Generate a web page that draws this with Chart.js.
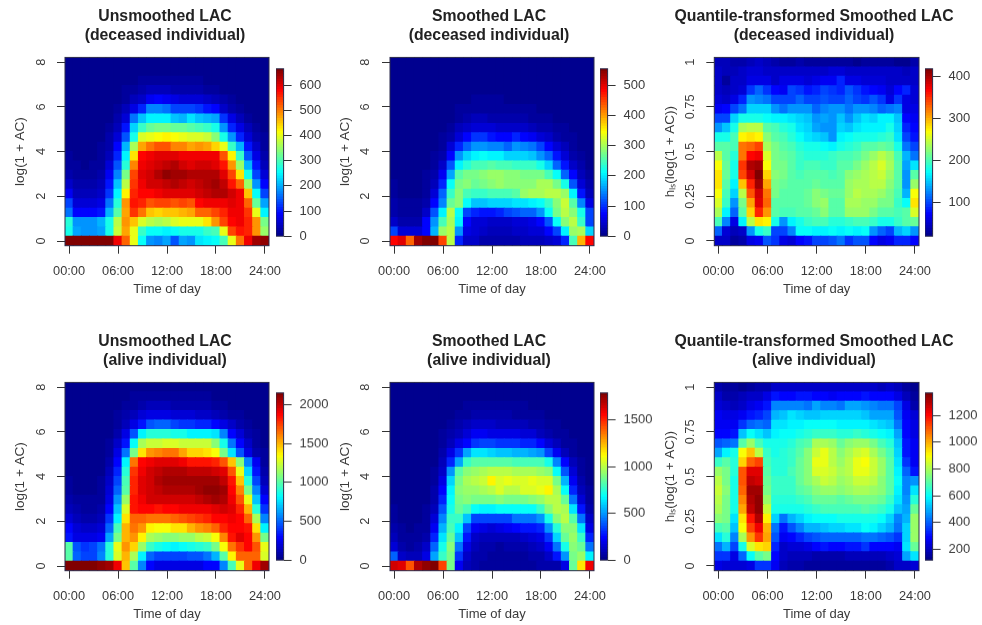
<!DOCTYPE html>
<html>
<head>
<meta charset="utf-8">
<script src="https://cdn.jsdelivr.net/npm/chart.js@4/dist/chart.umd.min.js"></script>
<style>
  html, body { margin: 0; padding: 0; background: #fff; }
  #page { position: relative; width: 982px; height: 625px; overflow: hidden; filter: blur(0.7px); }
  canvas { position: absolute; }
</style>
</head>
<body>
<div id="page"></div>
<script>
const timeLabels = ['00:00','01:00','02:00','03:00','04:00','05:00','06:00','07:00','08:00','09:00','10:00','11:00','12:00','13:00','14:00','15:00','16:00','17:00','18:00','19:00','20:00','21:00','22:00','23:00','24:00'];
const logBins = [0,0.42,0.84,1.26,1.68,2.11,2.53,2.95,3.37,3.79,4.21,4.63,5.05,5.47,5.89,6.32,6.74,7.16,7.58,8];
const quantBins = [0,0.053,0.105,0.158,0.211,0.263,0.316,0.368,0.421,0.474,0.526,0.579,0.632,0.684,0.737,0.789,0.842,0.895,0.947,1];
const logTicks = [0,2,4,6,8];
const quantTicks = [0,0.25,0.5,0.75,1];

// every grid is bottom row first, one row = 25 hours
const unsmoothedDeceased = [
  [662,662,662,662,660,655,590,510,400,250,180,175,190,145,190,180,235,240,255,300,400,500,590,640,650],
  [270,190,180,180,190,260,380,470,400,290,250,250,245,250,260,270,270,290,300,400,530,570,560,480,350],
  [280,180,180,180,200,270,370,480,450,390,370,360,370,390,395,405,400,430,480,530,580,585,560,480,330],
  [160,90,85,85,100,200,310,470,545,500,450,445,450,450,460,470,510,510,530,560,585,590,545,400,240],
  [130,60,60,60,70,160,280,480,570,560,520,530,530,520,530,520,580,585,585,590,595,590,510,320,190],
  [80,40,35,40,50,120,240,420,560,580,575,590,595,595,595,600,605,615,630,625,605,590,450,250,130],
  [50,25,22,25,35,95,210,370,545,590,605,610,620,625,620,610,615,625,640,620,570,510,350,180,85],
  [30,18,16,18,28,75,175,330,530,600,610,625,645,640,640,630,630,630,630,600,530,430,270,125,55],
  [18,11,10,12,20,55,140,280,490,590,600,610,620,630,610,600,610,610,600,565,480,350,200,95,40],
  [12,7,7,9,15,40,110,240,430,575,590,600,600,600,590,585,590,590,585,525,420,290,145,65,28],
  [8,5,5,6,11,30,85,200,360,470,500,520,520,490,490,470,480,470,440,400,290,200,100,45,20],
  [5,3,3,4,8,22,60,140,270,390,400,410,420,410,400,390,390,375,340,270,180,110,60,28,14],
  [4,2,2,3,5,14,40,95,220,290,320,330,330,320,320,310,300,290,260,180,110,65,35,18,10],
  [3,2,2,2,4,9,25,60,160,210,245,240,240,215,205,230,210,200,190,120,65,35,20,10,6],
  [2,1,1,2,3,6,16,38,70,110,170,175,160,130,125,130,120,100,85,50,28,16,10,6,4],
  [1,1,1,1,2,4,9,20,35,50,75,85,80,65,60,60,55,45,35,22,13,8,5,3,2],
  [0,0,0,1,1,2,5,11,18,25,35,38,36,30,28,26,24,20,16,10,7,4,3,2,1],
  [0,0,0,0,1,1,2,5,9,12,16,18,17,14,13,12,11,9,7,5,3,2,1,1,1],
  [0,0,0,0,0,1,1,2,4,6,8,9,8,7,6,6,5,4,3,2,1,1,1,0,0],
  [0,0,0,0,0,0,1,1,2,3,4,4,4,3,3,3,2,2,1,1,1,0,0,0,0]
];
const smoothedDeceased = [
  [480,500,430,530,550,550,450,310,90,40,35,25,20,20,20,25,30,30,30,35,45,95,250,390,480],
  [110,50,50,50,70,170,290,310,150,60,45,35,30,30,30,35,40,45,50,75,110,200,290,300,190],
  [40,25,22,25,70,150,250,300,200,70,50,45,40,40,40,45,50,55,70,120,210,280,310,240,110],
  [25,16,14,16,40,120,200,310,210,110,90,85,85,90,105,115,125,130,150,215,270,310,285,220,110],
  [18,10,9,10,25,75,145,265,280,210,175,180,185,190,185,195,195,200,210,240,285,315,260,140,55],
  [12,8,7,8,17,50,125,240,280,250,235,240,250,250,250,255,290,295,300,310,310,290,200,80,30],
  [9,6,5,6,12,30,95,210,270,280,265,275,285,290,285,280,280,285,295,300,275,220,120,50,18],
  [7,4,4,5,9,22,65,160,255,270,275,280,290,290,285,280,275,270,270,250,210,130,70,30,12],
  [5,3,3,4,7,15,40,120,205,230,245,250,255,250,245,240,240,235,225,190,125,80,40,18,8],
  [4,2,2,3,5,10,25,75,150,190,205,210,205,205,190,185,185,175,155,125,80,45,25,12,6],
  [3,2,2,2,4,7,15,45,90,130,155,150,140,140,130,150,145,135,105,75,45,28,15,8,4],
  [2,1,1,2,3,5,10,25,50,75,100,100,80,75,75,90,75,65,50,35,25,15,9,5,3],
  [2,1,1,1,2,3,6,14,28,40,50,52,45,40,40,42,38,33,26,20,14,9,5,3,2],
  [1,1,1,1,2,2,4,8,15,22,28,28,26,23,22,22,20,17,13,10,7,5,3,2,1],
  [1,0,0,1,1,2,3,5,9,13,16,17,16,14,13,13,11,10,8,6,4,3,2,1,1],
  [0,0,0,0,1,1,2,3,6,8,10,11,10,9,8,8,7,6,5,3,3,2,1,1,0],
  [0,0,0,0,0,1,1,2,3,5,6,7,6,5,5,5,4,3,3,2,1,1,1,0,0],
  [0,0,0,0,0,0,1,1,2,3,4,4,4,3,3,3,2,2,1,1,1,1,0,0,0],
  [0,0,0,0,0,0,0,1,1,2,2,3,2,2,2,2,1,1,1,1,0,0,0,0,0],
  [0,0,0,0,0,0,0,0,1,1,1,1,1,1,1,1,1,0,0,0,0,0,0,0,0]
];
const quantileDeceased = [
  [50,45,30,35,60,65,105,90,60,55,70,80,95,100,105,115,90,105,105,75,60,65,85,85,70],
  [110,55,40,50,125,175,190,100,100,120,170,170,165,165,170,165,170,165,170,125,110,95,140,150,130],
  [195,120,60,165,240,280,270,175,130,165,180,190,195,195,185,185,190,195,195,190,175,175,190,200,210],
  [235,165,110,200,285,350,310,200,195,195,200,205,210,220,205,200,225,225,225,215,205,205,195,200,255],
  [255,190,130,215,305,375,330,205,200,200,205,210,220,225,205,205,235,235,230,225,215,215,190,170,280],
  [265,195,150,240,335,385,320,215,205,200,205,210,220,215,210,210,230,240,235,235,225,215,195,140,265],
  [275,205,165,290,350,400,300,215,210,200,200,205,210,205,205,205,225,235,235,240,240,220,200,130,230],
  [280,210,175,340,385,415,285,220,215,205,195,200,200,200,195,205,220,225,235,240,245,225,200,130,205],
  [265,210,180,345,395,405,265,215,215,205,190,195,195,190,190,200,205,215,230,240,250,235,200,135,160],
  [240,205,185,320,365,370,250,215,210,205,190,185,185,185,190,195,195,205,215,225,240,230,195,140,115],
  [205,200,195,320,330,340,235,215,205,195,185,175,175,170,165,180,185,190,200,205,210,205,180,115,100],
  [180,175,195,270,275,270,220,205,195,185,170,160,150,145,130,165,170,175,180,180,185,190,160,95,80],
  [130,145,175,235,240,240,205,195,185,175,160,150,135,130,125,150,145,160,165,165,165,175,155,85,70],
  [95,100,150,175,180,175,170,165,165,160,155,145,130,135,130,145,130,145,160,150,165,165,145,75,65],
  [65,70,95,115,155,155,150,125,115,125,130,125,110,120,125,125,115,125,130,120,110,115,120,60,60],
  [55,45,60,85,125,120,115,100,95,100,110,100,100,105,100,100,110,95,90,105,90,60,90,60,55],
  [50,40,50,55,90,110,90,70,65,95,90,80,85,95,90,85,105,90,80,70,65,55,75,85,55],
  [45,30,45,50,60,60,60,50,60,60,60,55,60,65,65,85,60,60,55,55,55,50,50,50,50],
  [50,40,40,45,55,55,50,45,50,50,50,45,50,50,55,55,50,50,45,45,45,45,45,40,45],
  [40,40,35,35,40,45,40,35,30,30,35,30,30,30,30,30,30,25,30,30,30,30,25,25,35]
];
const unsmoothedAlive = [
  [2140,2140,2140,2130,2110,2050,1900,1450,1000,560,300,220,220,220,220,220,220,270,300,560,950,1300,1650,1900,2080],
  [1000,500,420,430,550,900,1250,1500,1150,800,500,430,420,420,430,440,470,520,640,1000,1350,1650,1650,1650,1250],
  [1000,460,400,420,520,880,1280,1560,1420,1130,920,850,810,800,820,860,890,940,1060,1340,1620,1780,1880,1700,1300],
  [320,230,210,210,250,620,1060,1500,1560,1350,1160,1110,1090,1100,1110,1130,1180,1240,1320,1580,1820,1920,1880,1550,1050],
  [290,170,150,150,190,490,950,1480,1620,1560,1350,1340,1320,1390,1400,1500,1570,1590,1650,1800,1880,1880,1820,1400,800],
  [200,110,90,95,130,380,800,1400,1650,1650,1630,1620,1640,1670,1700,1720,1780,1800,1850,1880,1900,1870,1660,1150,560],
  [130,70,60,65,90,300,680,1250,1830,1870,1860,1830,1880,1880,1890,1890,1900,1910,1920,1950,1920,1800,1480,880,380],
  [90,45,40,42,65,230,590,1120,1830,1900,1950,1960,1960,1970,1970,1970,2000,2040,2060,2030,1900,1700,1280,680,270],
  [60,32,28,30,48,180,500,1000,1800,1920,1950,1990,2040,2040,2030,2040,2080,2100,2090,2050,1880,1590,1050,540,180],
  [42,22,20,22,36,140,430,950,1800,1920,1970,2030,2060,2060,2050,2060,2070,2080,2060,2000,1820,1450,880,420,130],
  [30,16,14,16,26,110,350,880,1760,1900,1950,1990,2030,2040,2020,1990,2000,2000,1980,1920,1700,1300,720,320,90],
  [20,11,10,12,19,85,290,800,1620,1880,1900,1930,1920,1920,1890,1830,1840,1830,1800,1700,1470,1100,570,240,65],
  [14,8,7,9,14,62,220,530,1050,1380,1550,1600,1640,1620,1520,1430,1430,1400,1330,1050,750,470,230,100,40],
  [10,6,5,6,10,45,150,330,830,1170,1210,1230,1250,1250,1220,1220,1220,1210,1080,850,530,280,140,60,25],
  [7,4,4,4,7,30,100,210,460,800,880,900,880,850,840,800,780,780,750,560,300,170,85,38,16],
  [5,3,3,3,5,20,60,130,230,330,470,500,480,420,400,400,350,340,300,220,140,85,45,22,10],
  [3,2,2,2,4,12,35,70,120,170,210,230,220,190,190,180,160,150,130,100,65,40,22,11,5],
  [2,1,1,2,3,8,20,40,65,85,105,115,110,100,95,90,80,70,60,45,30,20,11,6,3],
  [1,1,1,1,2,5,11,22,35,45,55,60,58,50,48,45,40,35,30,22,15,10,6,3,2],
  [1,0,0,1,1,3,6,12,18,24,28,30,28,25,24,22,20,18,15,11,8,5,3,2,1]
];
const smoothedAlive = [
  [1650,1600,1400,1700,1760,1770,1450,880,200,110,70,50,40,35,35,40,45,50,60,70,70,190,850,1150,1580],
  [400,130,110,110,170,520,780,890,330,130,80,60,50,45,45,50,55,65,80,130,260,500,870,950,650],
  [140,60,50,60,120,400,700,900,430,190,100,70,60,55,60,65,75,85,120,210,420,700,910,860,420],
  [90,40,32,40,80,280,640,850,560,260,130,100,90,90,95,100,120,140,190,330,590,840,930,780,280],
  [60,28,24,28,55,200,540,800,660,340,200,170,160,170,220,240,260,270,300,500,740,920,900,620,190],
  [40,20,18,22,40,150,450,760,760,560,350,340,340,360,360,420,430,440,480,720,900,980,820,420,120],
  [28,15,13,16,30,110,370,720,860,810,680,660,670,680,680,690,690,680,760,900,1000,960,640,260,80],
  [20,11,10,12,22,80,290,680,880,900,880,880,890,900,890,880,880,900,950,1000,990,840,430,160,50],
  [15,8,8,9,17,60,230,650,900,950,950,960,980,1040,1000,990,1040,1060,1090,1120,960,680,300,100,35],
  [11,6,6,7,13,45,180,600,880,960,990,1030,1120,1060,1070,1040,1050,1070,1060,1040,880,540,210,70,25],
  [8,5,4,5,10,33,130,480,820,900,950,960,1000,980,980,960,970,970,950,900,680,380,140,50,18],
  [6,4,3,4,8,25,95,300,520,780,820,830,830,820,820,810,810,810,800,700,450,240,90,32,12],
  [4,3,3,3,6,18,65,190,310,520,630,640,590,560,560,540,540,520,480,350,210,110,50,20,8],
  [3,2,2,2,4,13,42,110,170,240,320,340,340,320,320,310,300,280,240,160,100,55,28,12,6],
  [2,1,1,2,3,9,28,65,110,150,200,220,190,190,180,170,160,140,110,80,50,30,16,8,4],
  [1,1,1,1,2,6,18,40,70,90,120,130,120,105,100,95,85,75,60,45,30,18,10,5,3],
  [1,1,1,1,1,4,11,24,42,55,70,75,70,62,58,55,50,42,35,25,17,11,6,3,2],
  [1,0,0,1,1,3,7,14,24,32,40,44,42,36,34,32,28,24,20,15,10,6,4,2,1],
  [0,0,0,0,1,2,4,8,14,18,22,24,22,20,19,18,16,14,11,8,6,4,2,1,1],
  [0,0,0,0,0,1,2,4,7,9,11,12,11,10,9,9,8,7,6,4,3,2,1,1,0]
];
const quantileAlive = [
  [240,230,220,220,240,340,350,260,180,160,160,150,150,140,140,145,140,145,145,150,150,160,200,210,230],
  [350,340,240,400,600,700,740,280,200,180,190,180,175,170,170,170,180,180,180,190,190,200,230,480,550],
  [430,500,370,620,850,930,950,330,210,220,220,240,290,300,290,280,300,300,340,280,290,280,260,550,720],
  [560,640,450,800,1020,1150,1000,380,260,290,330,370,390,400,400,400,410,410,430,420,400,390,340,540,780],
  [680,700,520,880,1130,1230,980,430,300,380,450,490,500,520,530,540,550,550,590,570,530,500,420,530,780],
  [760,730,560,920,1190,1290,900,540,420,500,540,570,590,600,600,610,610,610,620,610,590,540,440,500,780],
  [800,730,610,1000,1270,1340,830,620,610,620,620,640,660,670,670,680,680,680,690,680,660,610,520,480,720],
  [820,740,620,1050,1300,1340,780,640,640,640,660,680,710,720,720,700,720,730,730,730,720,660,550,460,640],
  [830,750,620,1080,1320,1310,740,650,650,660,690,720,760,780,770,750,770,790,790,780,750,690,580,440,560],
  [820,740,620,1100,1280,1260,720,650,650,660,710,750,800,830,820,780,800,830,830,810,760,700,590,440,460],
  [780,730,630,1110,1240,1240,690,640,640,670,720,760,850,850,830,790,810,870,860,830,770,700,580,400,300],
  [650,700,640,950,1090,1130,680,630,640,660,710,760,860,870,820,780,820,870,880,830,770,690,560,340,270],
  [480,570,620,880,960,820,650,620,630,650,700,750,840,860,810,760,800,840,850,790,740,670,540,310,270],
  [380,400,420,700,770,680,610,610,620,630,670,700,790,800,780,720,760,780,770,730,680,640,510,300,260],
  [280,290,310,510,590,560,510,580,590,600,610,630,660,660,650,640,640,650,640,620,600,580,470,290,240],
  [270,270,270,350,400,430,400,550,560,570,580,590,590,600,590,580,570,570,570,550,540,520,430,280,240],
  [260,250,250,270,300,320,360,500,520,550,530,520,520,530,530,540,540,530,510,480,470,480,390,270,220],
  [220,200,190,200,250,260,300,440,440,440,440,430,470,450,440,430,470,470,460,440,430,420,360,240,170],
  [200,170,170,180,200,210,240,300,280,290,300,300,290,280,270,280,290,290,300,290,280,280,240,190,150],
  [160,150,140,130,150,170,170,200,210,200,210,210,210,210,200,200,210,210,200,200,190,200,180,140,130]
];

const cbTicksUnsDec = [0,100,200,300,400,500,600];
const cbTicksSmoDec = [0,100,200,300,400,500];
const cbTicksQuaDec = [100,200,300,400];
const cbTicksUnsAli = [0,500,1000,1500,2000];
const cbTicksSmoAli = [0,500,1000,1500];
const cbTicksQuaAli = [200,400,600,800,1000,1200];

// tim.colors style palette, 64 steps
function jet(f) {
  const stops = [[0,0,0,143],[0.125,0,0,255],[0.375,0,255,255],[0.625,255,255,0],[0.875,255,0,0],[1,128,0,0]];
  f = Math.min(1, Math.max(0, Math.floor(f * 64) / 63));
  for (let i = 1; i < stops.length; i++) {
    if (f <= stops[i][0]) {
      const a = stops[i - 1], b = stops[i], t = (f - a[0]) / (b[0] - a[0]);
      return `rgb(${[1, 2, 3].map(k => Math.round(a[k] + (b[k] - a[k]) * t)).join(',')})`;
    }
  }
  return 'rgb(128,0,0)';
}

const boxPlugin = {
  id: 'box',
  afterDraw(chart) {
    const a = chart.chartArea, ctx = chart.ctx;
    ctx.save();
    ctx.strokeStyle = '#2a2a4a';
    ctx.lineWidth = 1;
    ctx.strokeRect(a.left, a.top, a.right - a.left, a.bottom - a.top);
    ctx.restore();
  }
};

const TEXT = '#3a3a3a';
const page = document.getElementById('page');

function addCanvas(left, top, w, h) {
  const c = document.createElement('canvas');
  c.width = w; c.height = h;
  c.style.left = left + 'px'; c.style.top = top + 'px';
  c.style.width = w + 'px'; c.style.height = h + 'px';
  page.appendChild(c);
  return c;
}

function heatPanel(p) {
  const H = 300;
  // cell edges sit halfway between neighbouring bins so rows touch
  const edge = i => i <= 0 ? p.bins[0] - (p.bins[1] - p.bins[0]) / 2
    : i >= p.bins.length ? p.bins[19] + (p.bins[19] - p.bins[18]) / 2
    : (p.bins[i - 1] + p.bins[i]) / 2;
  const datasets = p.grid.map((row, r) => ({
    grouped: false,
    data: row.map(() => [edge(r), edge(r + 1)]),
    backgroundColor: row.map(v => jet((v - p.min) / (p.max - p.min))),
    barPercentage: 1,
    categoryPercentage: 1,
    borderWidth: 0,
    inflateAmount: 0.5
  }));
  new Chart(addCanvas(p.left, p.top, p.width, H), {
    type: 'bar',
    data: { labels: timeLabels, datasets },
    plugins: [boxPlugin],
    options: {
      responsive: false,
      animation: false,
      events: [],
      plugins: {
        legend: { display: false },
        tooltip: { enabled: false },
        title: {
          display: true,
          text: p.title,
          color: '#222',
          font: { family: 'Liberation Sans', size: 15.8, weight: 'bold', lineHeight: 1.2 },
          padding: { top: 7.5, bottom: 12 }
        }
      },
      scales: {
        x: {
          grid: { offset: false, drawOnChartArea: false, tickLength: 8, tickColor: c => c.index % 6 === 0 ? '#333' : 'rgba(0,0,0,0)' },
          border: { display: false },
          ticks: {
            autoSkip: false, maxRotation: 0, padding: 10, color: TEXT,
            font: { family: 'Liberation Sans', size: 12.8 },
            callback(val, i) { return i % 6 === 0 ? timeLabels[i] : ''; }
          },
          title: {
            display: true, text: 'Time of day', color: TEXT,
            font: { family: 'Liberation Sans', size: 13 },
            padding: { top: 0, bottom: 3 }
          },
          afterFit(s) { s.height = H - 245.7; }
        },
        y: {
          min: edge(0),
          max: edge(20),
          afterBuildTicks(s) { s.ticks = p.ticks.map(v => ({ value: v })); },
          grid: { drawOnChartArea: false, tickLength: 8, tickColor: '#333' },
          border: { display: false },
          ticks: {
            minRotation: 90, crossAlign: 'center', padding: p.tickPad, color: TEXT,
            font: { family: 'Liberation Sans', size: 12.8 },
            callback(val) { return String(val); }
          },
          title: {
            display: true, text: p.yTitle, color: TEXT,
            font: { family: 'Liberation Sans', size: 13.5 },
            padding: { top: p.yTitlePad, bottom: 0 }
          },
          afterFit(s) { s.width = p.plotLeft; }
        },
        // empty axis, only keeps the room for the colour bar so the title stays centred on the canvas
        spare: {
          position: 'right',
          grid: { display: false },
          border: { display: false },
          ticks: { display: false },
          afterFit(s) { s.width = p.width - p.plotRight; }
        }
      }
    }
  });
}

function colorBar(p) {
  const W = 62, pad = 14;
  const levels = [];
  for (let i = 0; i < 64; i++) levels.push(p.min + (p.max - p.min) * i / 64);
  const step = (p.max - p.min) / 64;
  new Chart(addCanvas(p.left, p.top - pad, W, p.height + pad * 2), {
    type: 'bar',
    data: {
      labels: [''],
      datasets: levels.map((v, i) => ({
        grouped: false,
        data: [[v, v + step]],
        backgroundColor: jet(i / 63),
        barPercentage: 1,
        categoryPercentage: 1,
        borderWidth: 0,
        inflateAmount: 0.5
      }))
    },
    plugins: [boxPlugin],
    options: {
      responsive: false,
      animation: false,
      events: [],
      layout: { padding: { top: pad, bottom: pad } },
      plugins: { legend: { display: false }, tooltip: { enabled: false } },
      scales: {
        x: { display: false },
        y: {
          position: 'right',
          min: p.min,
          max: p.max,
          afterBuildTicks(s) { s.ticks = p.ticks.map(v => ({ value: v })); },
          grid: { drawOnChartArea: false, tickLength: 8, tickColor: '#333' },
          border: { display: false },
          ticks: {
            padding: 8, color: TEXT,
            font: { family: 'Liberation Sans', size: 13 },
            callback(val) { return String(val); }
          },
          afterFit(s) { s.width = W - 7.6; }
        }
      }
    }
  });
}

const logTitle = 'log(1 + AC)';
const quantTitle = 'h\u2097\u209B(log(1 + AC))';
const col1 = { left: 0, width: 330, plotLeft: 65, plotRight: 269, bins: logBins, ticks: logTicks, yTitle: logTitle, tickPad: 12, yTitlePad: 12 };
const col2 = { left: 330, width: 318, plotLeft: 60, plotRight: 264, bins: logBins, ticks: logTicks, yTitle: logTitle, tickPad: 13, yTitlePad: 7 };
const col3 = { left: 650, width: 328, plotLeft: 64.3, plotRight: 269, bins: quantBins, ticks: quantTicks, yTitle: quantTitle, tickPad: 3, yTitlePad: 12 };

heatPanel({ ...col1, top: 0, grid: unsmoothedDeceased, min: 0, max: 665, title: ['Unsmoothed LAC', '(deceased individual)'] });
heatPanel({ ...col2, top: 0, grid: smoothedDeceased, min: 0, max: 555, title: ['Smoothed LAC', '(deceased individual)'] });
heatPanel({ ...col3, top: 0, grid: quantileDeceased, min: 19, max: 418, title: ['Quantile-transformed Smoothed LAC', '(deceased individual)'] });
heatPanel({ ...col1, top: 325, grid: unsmoothedAlive, min: 0, max: 2150, title: ['Unsmoothed LAC', '(alive individual)'] });
heatPanel({ ...col2, top: 325, grid: smoothedAlive, min: 0, max: 1790, title: ['Smoothed LAC', '(alive individual)'] });
heatPanel({ ...col3, top: 325, grid: quantileAlive, min: 119, max: 1367, title: ['Quantile-transformed Smoothed LAC', '(alive individual)'] });

colorBar({ left: 275.6, top: 66.5, height: 171.5, min: 0, max: 665, ticks: cbTicksUnsDec });
colorBar({ left: 600, top: 66.5, height: 171.5, min: 0, max: 555, ticks: cbTicksSmoDec });
colorBar({ left: 925, top: 66.5, height: 171.5, min: 19, max: 418, ticks: cbTicksQuaDec });
colorBar({ left: 275.6, top: 391, height: 170.5, min: 0, max: 2150, ticks: cbTicksUnsAli });
colorBar({ left: 600, top: 391, height: 170.5, min: 0, max: 1790, ticks: cbTicksSmoAli });
colorBar({ left: 925, top: 391, height: 170.5, min: 119, max: 1367, ticks: cbTicksQuaAli });
</script>
</body>
</html>
